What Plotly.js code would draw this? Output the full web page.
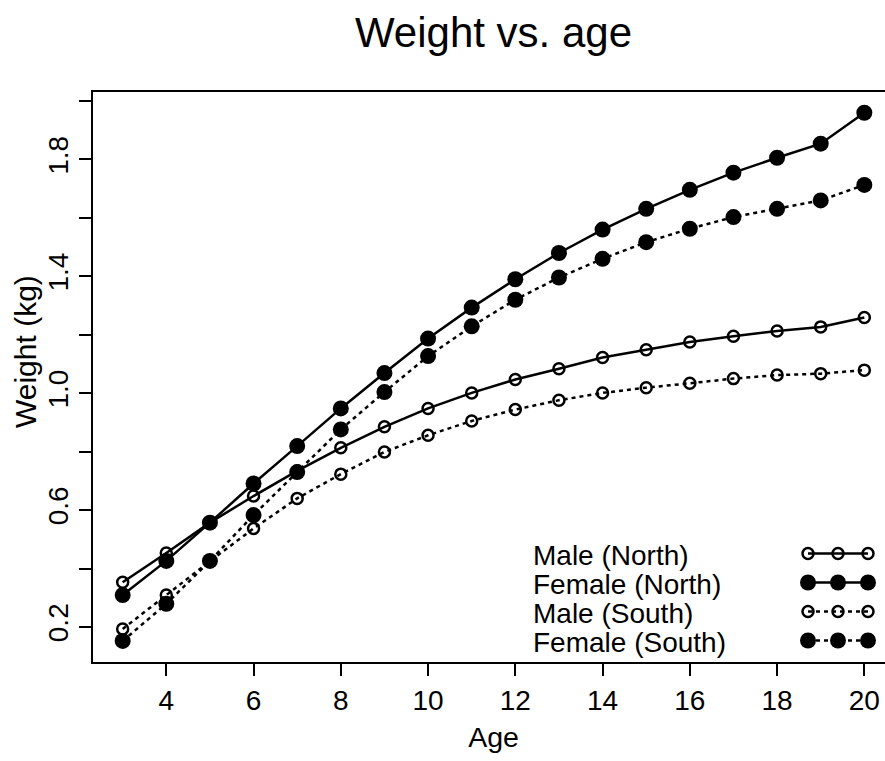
<!DOCTYPE html>
<html><head><meta charset="utf-8">
<script src="https://cdn.plot.ly/plotly-3.0.1.min.js"></script>
<style>html,body{margin:0;padding:0;overflow:hidden;background:#fff}</style>
</head><body><div id="chart"></div>
<script>
// ---- data ----
const ages = [3,4,5,6,7,8,9,10,11,12,13,14,15,16,17,18,19,20];
const maleNorth   = [0.353,0.453,0.557,0.648,0.734,0.813,0.885,0.948,1.001,1.047,1.084,1.122,1.149,1.175,1.195,1.213,1.227,1.259];
const femaleNorth = [0.309,0.426,0.557,0.691,0.819,0.948,1.069,1.187,1.293,1.390,1.480,1.560,1.631,1.696,1.755,1.806,1.854,1.960];
const maleSouth   = [0.193,0.309,0.425,0.537,0.640,0.723,0.799,0.856,0.905,0.944,0.976,1.001,1.019,1.034,1.050,1.062,1.067,1.079];
const femaleSouth = [0.152,0.279,0.426,0.583,0.730,0.876,1.004,1.127,1.229,1.320,1.396,1.460,1.517,1.563,1.603,1.631,1.660,1.713];
const seriesNames = ['Male (North)','Female (North)','Male (South)','Female (South)'];
const xTickVals = [4,6,8,10,12,14,16,18,20];
const yTickVals = [0.2,0.4,0.6,0.8,1.0,1.2,1.4,1.6,1.8,2.0];
const yTickText = ['0.2','','0.6','','1.0','','1.4','','1.8',''];

// ---- styles ----
const FONT = 'Liberation Sans, Arial, Helvetica, sans-serif';
const styles = [
  {dash:'solid', open:true},
  {dash:'solid', open:false},
  {dash:'4px,4px', open:true},
  {dash:'4px,4px', open:false}
];
const seriesValues = [maleNorth, femaleNorth, maleSouth, femaleSouth];

function markerFor(st){
  return st.open
    ? {symbol:'circle-open', size:11, color:'#000', line:{width:2.5, color:'#000'}}
    : {symbol:'circle', size:16, color:'#000', line:{width:0}};
}

const traces = [];
seriesValues.forEach((vals, i) => {
  traces.push({
    type:'scatter', mode:'lines+markers', name:seriesNames[i],
    x:ages, y:vals, xaxis:'x', yaxis:'y',
    line:{color:'#000', width:2.5, dash:styles[i].dash},
    marker:markerFor(styles[i]), showlegend:false, cliponaxis:false
  });
});

// ---- custom legend (keys to the right of the labels), in pixel-like overlay axes ----
const legKeyX = [808, 838, 868];
const legRowY = [553.5, 582.5, 611.5, 640.5];
const annotations = [];
seriesNames.forEach((nm, i) => {
  traces.push({
    type:'scatter', mode:'lines+markers', x:legKeyX, y:legKeyX.map(()=>legRowY[i]),
    xaxis:'x2', yaxis:'y2', showlegend:false, hoverinfo:'skip', cliponaxis:false,
    line:{color:'#000', width:2.5, dash:styles[i].dash}, marker:markerFor(styles[i])
  });
  annotations.push({
    xref:'x2', yref:'y2', x:531, y:legRowY[i]+2, text:nm, showarrow:false,
    xanchor:'left', yanchor:'middle', font:{family:FONT, size:28, color:'#000'}
  });
});

// y-axis title (placed as in the reference, slightly above the plot centre)
const plotL = 93, plotR = 894, plotT = 92, plotB = 662;
annotations.push({
  xref:'paper', yref:'paper', x:(25-plotL)/(plotR-plotL), y:(plotB-352)/(plotB-plotT),
  text:'Weight (kg)', textangle:-90, showarrow:false, xanchor:'center', yanchor:'middle',
  font:{family:FONT, size:30, color:'#000'}
});

const layout = {
  width:900, height:761,
  margin:{l:93, r:6, t:92, b:99, pad:0},
  paper_bgcolor:'#fff', plot_bgcolor:'#fff',
  font:{family:FONT, color:'#000', size:28},
  title:{text:'Weight vs. age', font:{family:FONT, size:42, color:'#000'},
         x:0.5, xref:'paper', xanchor:'center', y:1-32/761, yref:'container', yanchor:'middle'},
  xaxis:{range:[2.32,20.68], tickmode:'array', tickvals:xTickVals,
         ticks:'outside', ticklen:12, tickwidth:2, tickcolor:'#000',
         showline:true, linewidth:2, linecolor:'#000', mirror:true,
         showgrid:false, zeroline:false, tickfont:{size:28},
         title:{text:'Age', font:{size:28.5}, standoff:12}},
  yaxis:{range:[0.08,2.031], tickmode:'array', tickvals:yTickVals, ticktext:yTickText,
         tickangle:-90, ticks:'outside', ticklen:12, tickwidth:2, tickcolor:'#000',
         showline:true, linewidth:2, linecolor:'#000', mirror:true,
         showgrid:false, zeroline:false, tickfont:{size:28}},
  xaxis2:{overlaying:'x', anchor:'y2', range:[plotL,plotR], visible:false, fixedrange:true},
  yaxis2:{overlaying:'y', anchor:'x2', range:[plotB,plotT], visible:false, fixedrange:true},
  annotations:annotations,
  showlegend:false
};
Plotly.newPlot('chart', traces, layout, {displayModeBar:false, staticPlot:true});
</script>
</body></html>
